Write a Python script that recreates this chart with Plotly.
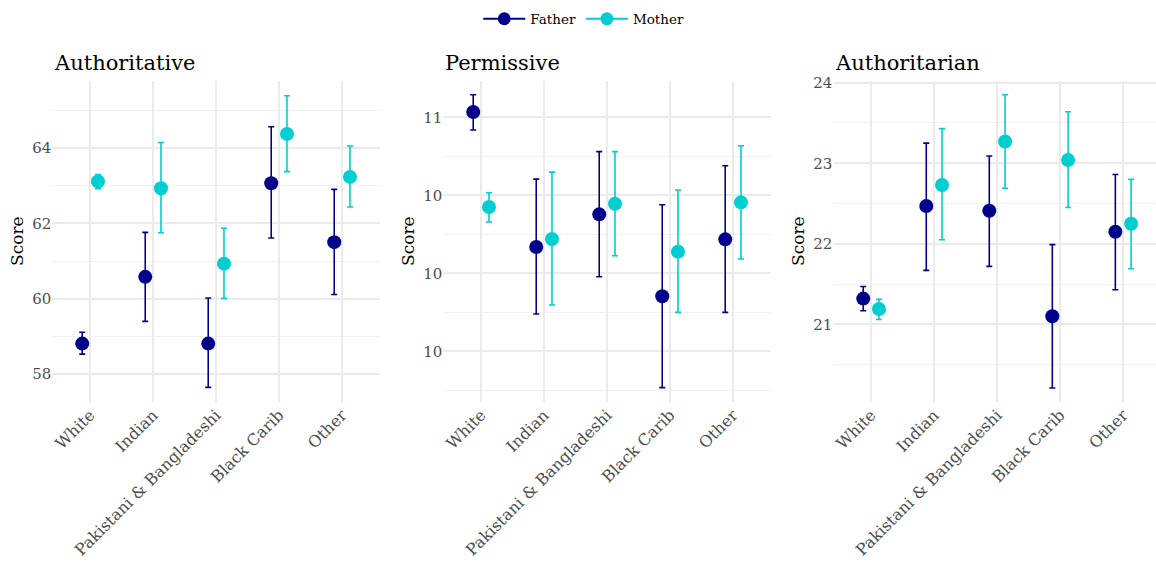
import plotly.graph_objects as go

categories = ["White", "Indian", "Pakistani & Bangladeshi", "Black Carib", "Other"]
panels = ["Authoritative", "Permissive", "Authoritarian"]

# Authoritative
auth_father = [58.81, 60.58, 58.81, 63.06, 61.50]
auth_father_lo = [58.53, 59.40, 57.65, 61.61, 60.11]
auth_father_hi = [59.11, 61.76, 60.02, 64.56, 62.90]
auth_mother = [63.11, 62.93, 60.93, 64.37, 63.23]
auth_mother_lo = [62.92, 61.75, 60.01, 63.37, 62.43]
auth_mother_hi = [63.29, 64.14, 61.87, 65.38, 64.05]

# Permissive
perm_father = [11.034, 10.169, 10.378, 9.853, 10.218]
perm_father_lo = [10.919, 9.739, 9.978, 9.267, 9.750]
perm_father_hi = [11.145, 10.604, 10.780, 10.440, 10.690]
perm_mother = [10.425, 10.220, 10.446, 10.139, 10.455]
perm_mother_lo = [10.329, 9.797, 10.113, 9.750, 10.092]
perm_mother_hi = [10.517, 10.649, 10.780, 10.534, 10.818]

# Authoritarian
autr_father = [21.32, 22.47, 22.41, 21.10, 22.15]
autr_father_lo = [21.17, 21.67, 21.72, 20.21, 21.43]
autr_father_hi = [21.47, 23.25, 23.09, 21.99, 22.86]
autr_mother = [21.19, 22.73, 23.27, 23.04, 22.25]
autr_mother_lo = [21.06, 22.05, 22.69, 22.45, 21.69]
autr_mother_hi = [21.31, 23.43, 23.85, 23.64, 22.80]

# axis ticks
auth_ticks = [58, 60, 62, 64]
auth_ticklabels = ["58", "60", "62", "64"]
auth_minor = [57, 59, 61, 63, 65]
perm_ticks = [9.5, 10.0, 10.5, 11.0]
perm_ticklabels = ["10", "10", "10", "11"]
perm_minor = [9.25, 9.75, 10.25, 10.75]
autr_ticks = [21, 22, 23, 24]
autr_ticklabels = ["21", "22", "23", "24"]
autr_minor = [20.5, 21.5, 22.5, 23.5]

FATHER = "#00008B"
MOTHER = "#00CED1"
FONT = "DejaVu Serif"
W, H = 1156, 574

panel_data = [
    (auth_father, auth_father_lo, auth_father_hi, auth_mother, auth_mother_lo, auth_mother_hi,
     auth_ticks, auth_ticklabels, auth_minor, [57.27, 65.78]),
    (perm_father, perm_father_lo, perm_father_hi, perm_mother, perm_mother_lo, perm_mother_hi,
     perm_ticks, perm_ticklabels, perm_minor, [9.177, 11.235]),
    (autr_father, autr_father_lo, autr_father_hi, autr_mother, autr_mother_lo, autr_mother_hi,
     autr_ticks, autr_ticklabels, autr_minor, [20.04, 24.025]),
]

x_px = [(52.3, 379.9), (443.3, 770.9), (833.3, 1156.0)]
y_dom = [(574 - 401.7) / H, (574 - 80.7) / H]
xranges = [[0.4, 5.6], [0.4, 5.6], [0.4, 5.52]]

dodge = 0.125
pos = list(range(1, len(categories) + 1))

fig = go.Figure()
for i, (f, flo, fhi, m, mlo, mhi, tv, tt, mn, yr) in enumerate(panel_data):
    xa = "x" if i == 0 else f"x{i+1}"
    ya = "y" if i == 0 else f"y{i+1}"
    for vals, lo, hi, col, name, off in [(f, flo, fhi, FATHER, "Father", -dodge),
                                         (m, mlo, mhi, MOTHER, "Mother", dodge)]:
        fig.add_trace(go.Scatter(
            x=[p + off for p in pos], y=vals, mode="markers",
            marker=dict(color=col, size=14),
            error_y=dict(type="data", symmetric=False,
                         array=[h - v for h, v in zip(hi, vals)],
                         arrayminus=[v - l for v, l in zip(vals, lo)],
                         color=col, thickness=1.6, width=3),
            xaxis=xa, yaxis=ya, showlegend=False, hoverinfo="skip"))
    key = "" if i == 0 else str(i + 1)
    fig.update_layout(**{
        f"xaxis{key}": dict(domain=[x_px[i][0] / W, x_px[i][1] / W], anchor=ya,
                            range=xranges[i], tickvals=pos, ticktext=categories,
                            tickangle=-45, showgrid=True, gridcolor="#EBEBEB", gridwidth=1.5,
                            zeroline=False, showline=False, ticks="", automargin=False,
                            tickfont=dict(family=FONT, size=16, color="#4D4D4D")),
        f"yaxis{key}": dict(domain=y_dom, anchor=xa, range=yr, tickvals=tv, ticktext=tt,
                            showgrid=True, gridcolor="#EBEBEB", gridwidth=1.5,
                            zeroline=False, showline=False, ticks="", automargin=False,
                            minor=dict(tickvals=mn, showgrid=True, gridcolor="#F2F2F2", gridwidth=1),
                            tickfont=dict(family=FONT, size=15, color="#4D4D4D"),
                            title=dict(text="Score", standoff=4,
                                       font=dict(family=FONT, size=17, color="black"))),
    })
    fig.add_annotation(text=panels[i], x=x_px[i][0] / W, y=1 - 63 / H,
                       xref="paper", yref="paper", xanchor="left", yanchor="middle",
                       showarrow=False, font=dict(family=FONT, size=21, color="black"))

# legend-only traces
for name, col in [("Father", FATHER), ("Mother", MOTHER)]:
    fig.add_trace(go.Scatter(x=[None], y=[None], mode="lines+markers", name=name,
                             line=dict(color=col, width=2), marker=dict(color=col, size=13),
                             xaxis="x", yaxis="y"))

fig.update_layout(
    width=W, height=H, margin=dict(l=0, r=0, t=0, b=0, autoexpand=False),
    plot_bgcolor="white", paper_bgcolor="white",
    font=dict(family=FONT, size=14, color="black"),
    legend=dict(orientation="h", x=0.505, xanchor="center", y=1 - 19 / H, yanchor="middle",
                font=dict(family=FONT, size=13.5, color="black"), itemwidth=42),
)

fig.write_html("out.html", config={"displayModeBar": False},
               post_script="document.body.style.margin='0';")
